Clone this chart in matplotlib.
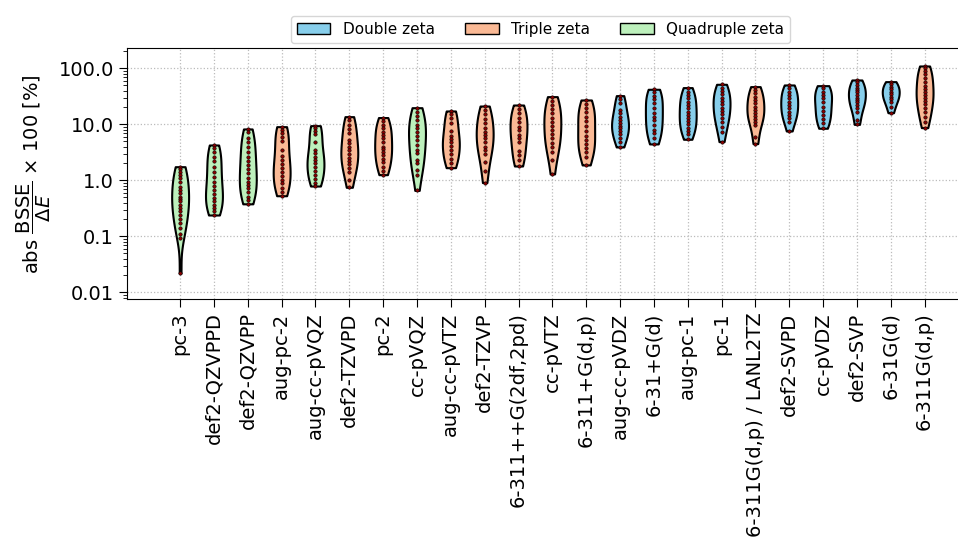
import numpy as np
import matplotlib
matplotlib.use("Agg")
import matplotlib.pyplot as plt
from matplotlib.patches import Patch

# === Data: BSSE / dE * 100 [%] per basis set ===
basis_sets = [
    "pc-3", "def2-QZVPPD", "def2-QZVPP", "aug-pc-2", "aug-cc-pVQZ", "def2-TZVPD",
    "pc-2", "cc-pVQZ", "aug-cc-pVTZ", "def2-TZVP", "6-311++G(2df,2pd)", "cc-pVTZ",
    "6-311+G(d,p)", "aug-cc-pVDZ", "6-31+G(d)", "aug-pc-1", "pc-1",
    "6-311G(d,p) / LANL2TZ", "def2-SVPD", "cc-pVDZ", "def2-SVP", "6-31G(d)", "6-311G(d,p)",
]
zeta = ["Q", "Q", "Q", "T", "Q", "T", "T", "Q", "T", "T", "T", "T",
        "T", "D", "D", "D", "D", "T", "D", "D", "D", "D", "T"]

bsse_values = [
    [1.75, 1.59, 1.43, 1.25, 1.09, 0.92, 0.77, 0.67, 0.59, 0.51, 0.46, 0.42, 0.36,
     0.32, 0.28, 0.24, 0.20, 0.17, 0.14, 0.11, 0.095, 0.022],
    [4.27, 3.73, 3.16, 2.65, 2.21, 1.75, 1.43, 1.16, 0.95, 0.80, 0.67, 0.56, 0.48,
     0.42, 0.36, 0.32, 0.28, 0.24],
    [8.26, 7.19, 5.78, 4.77, 3.99, 3.25, 2.65, 2.21, 1.88, 1.59, 1.33, 1.12, 0.95,
     0.83, 0.72, 0.61, 0.51, 0.44, 0.38],
    [9.08, 7.92, 6.91, 5.86, 5.04, 3.48, 2.76, 2.31, 1.98, 1.68, 1.43, 1.21, 1.01,
     0.88, 0.74, 0.63, 0.53],
    [9.46, 8.49, 7.60, 6.63, 4.90, 3.48, 3.03, 2.65, 2.31, 2.01, 1.75, 1.47, 1.25,
     1.06, 0.91, 0.79],
    [13.7, 11.9, 9.73, 8.26, 6.91, 5.25, 4.58, 3.99, 3.43, 2.99, 2.54, 2.21, 1.93,
     1.68, 1.43, 1.01, 0.75],
    [13.2, 11.5, 9.73, 8.49, 7.40, 6.45, 5.62, 4.77, 3.99, 3.63, 3.25, 2.83, 2.40,
     2.10, 1.75, 1.47, 1.26],
    [19.8, 16.8, 14.3, 11.9, 9.73, 8.49, 7.19, 6.28, 5.25, 4.27, 3.48, 3.03, 2.31,
     2.01, 1.53, 1.25, 0.66],
    [17.3, 15.1, 12.8, 10.4, 7.60, 6.28, 5.47, 4.77, 4.16, 3.48, 2.91, 2.40, 2.01, 1.68],
    [21.2, 18.0, 15.1, 12.5, 10.4, 8.71, 7.40, 6.45, 5.62, 4.77, 3.99, 3.43, 2.91,
     2.15, 1.47, 0.91],
    [22.1, 18.8, 15.7, 13.2, 11.2, 9.09, 7.92, 6.45, 5.62, 4.77, 3.34, 2.83, 2.31, 1.80],
    [31.2, 26.1, 22.1, 18.8, 15.7, 13.2, 11.2, 9.46, 7.92, 6.63, 5.62, 4.58, 3.99,
     3.16, 2.31, 1.30],
    [27.2, 22.8, 19.3, 16.4, 13.7, 11.5, 9.46, 7.60, 6.28, 5.25, 4.39, 3.73, 3.16,
     2.65, 1.88],
    [32.5, 28.3, 23.7, 18.0, 15.7, 13.7, 11.9, 10.4, 9.46, 8.49, 7.60, 6.63, 5.78,
     4.90, 3.94],
    [42.2, 37.3, 32.5, 28.3, 23.7, 19.3, 15.7, 13.7, 11.9, 9.73, 7.92, 6.91, 5.62, 4.46],
    [45.2, 38.3, 33.4, 29.1, 25.4, 22.1, 19.3, 16.8, 14.7, 12.8, 11.5, 10.0, 8.71,
     7.60, 6.63, 5.40],
    [51.8, 45.2, 39.4, 34.3, 29.9, 26.1, 22.8, 19.8, 17.3, 15.1, 13.2, 11.2, 9.09,
     7.19, 4.90],
    [47.1, 41.0, 35.8, 31.2, 27.2, 23.7, 20.7, 18.0, 15.7, 14.3, 12.5, 10.9, 9.73,
     6.02, 4.52],
    [50.4, 44.0, 38.3, 33.4, 29.1, 25.4, 22.1, 19.3, 16.8, 14.7, 12.8, 10.9, 7.60],
    [49.0, 44.0, 38.3, 33.4, 29.1, 24.7, 20.7, 17.3, 14.7, 12.5, 10.4, 8.49],
    [61.9, 56.2, 50.4, 45.2, 41.0, 37.3, 33.4, 29.9, 27.2, 24.7, 22.1, 19.3, 16.8,
     11.9, 9.97],
    [57.8, 51.8, 47.1, 42.8, 38.3, 34.3, 31.2, 28.3, 25.4, 20.7, 16.1],
    [110.0, 100.0, 89.6, 78.1, 66.3, 56.2, 49.0, 42.8, 37.3, 33.4, 29.9, 26.1, 22.8,
     19.8, 16.8, 13.7, 11.2, 8.71],
]

zeta_names = {"D": "Double zeta", "T": "Triple zeta", "Q": "Quadruple zeta"}
zeta_colors = {"D": "#87CEEB", "T": "#FAB995", "Q": "#BDF0BC"}

# === Plot (log10 values on a linear axis) ===
plt.rcParams["font.size"] = 14
fig = plt.figure(figsize=(9.58, 5.4), dpi=100)
ax = fig.add_axes([127 / 958, 1 - 299.3 / 540, (977.7 - 127) / 958, (299.3 - 48.3) / 540])

positions = np.arange(len(basis_sets))
log_data = [np.log10(v) for v in bsse_values]

parts = ax.violinplot(log_data, positions=positions, widths=0.5,
                      showextrema=False, showmeans=False, showmedians=False)
for body, z in zip(parts["bodies"], zeta):
    body.set_facecolor(zeta_colors[z])
    body.set_edgecolor("black")
    body.set_linewidth(1.5)
    body.set_alpha(1)
    body.set_zorder(2)

for pos, vals in zip(positions, log_data):
    ax.scatter(np.full(len(vals), pos), vals, s=6, c="darkred",
               edgecolors="black", linewidths=0.4, zorder=3)

ax.set_xticks(positions)
ax.set_xticklabels(basis_sets, rotation=90)

major = [-2, -1, 0, 1, 2]
ax.set_yticks(major)
ax.set_yticklabels(["0.01", "0.1", "1.0", "10.0", "100.0"])
minor = [n + np.log10(k) for n in range(-3, 3) for k in range(2, 10)]
ax.set_yticks(minor, minor=True)
ax.tick_params(axis="y", which="minor", length=3)
ax.tick_params(axis="both", which="major", length=6)

# limits after the ticks, so the minor ticks do not widen the view
ax.set_xlim(-1.57, 23.57)
ax.set_ylim(-2.125, 2.357)

ax.grid(True, which="major", linestyle=":", color="#bbbbbb", linewidth=0.9, zorder=0)
ax.set_axisbelow(True)
ax.set_ylabel(r"abs $\dfrac{\mathrm{BSSE}}{\Delta E}$ $\times$ 100 [%]")

handles = [Patch(facecolor=zeta_colors[k], edgecolor="black", label=zeta_names[k])
           for k in ["D", "T", "Q"]]
fig.legend(handles=handles, loc="upper center", ncol=3, fontsize=11,
           bbox_to_anchor=(540.5 / 958, 0.985), handlelength=2.2)

fig.savefig("out.png", dpi=100)
